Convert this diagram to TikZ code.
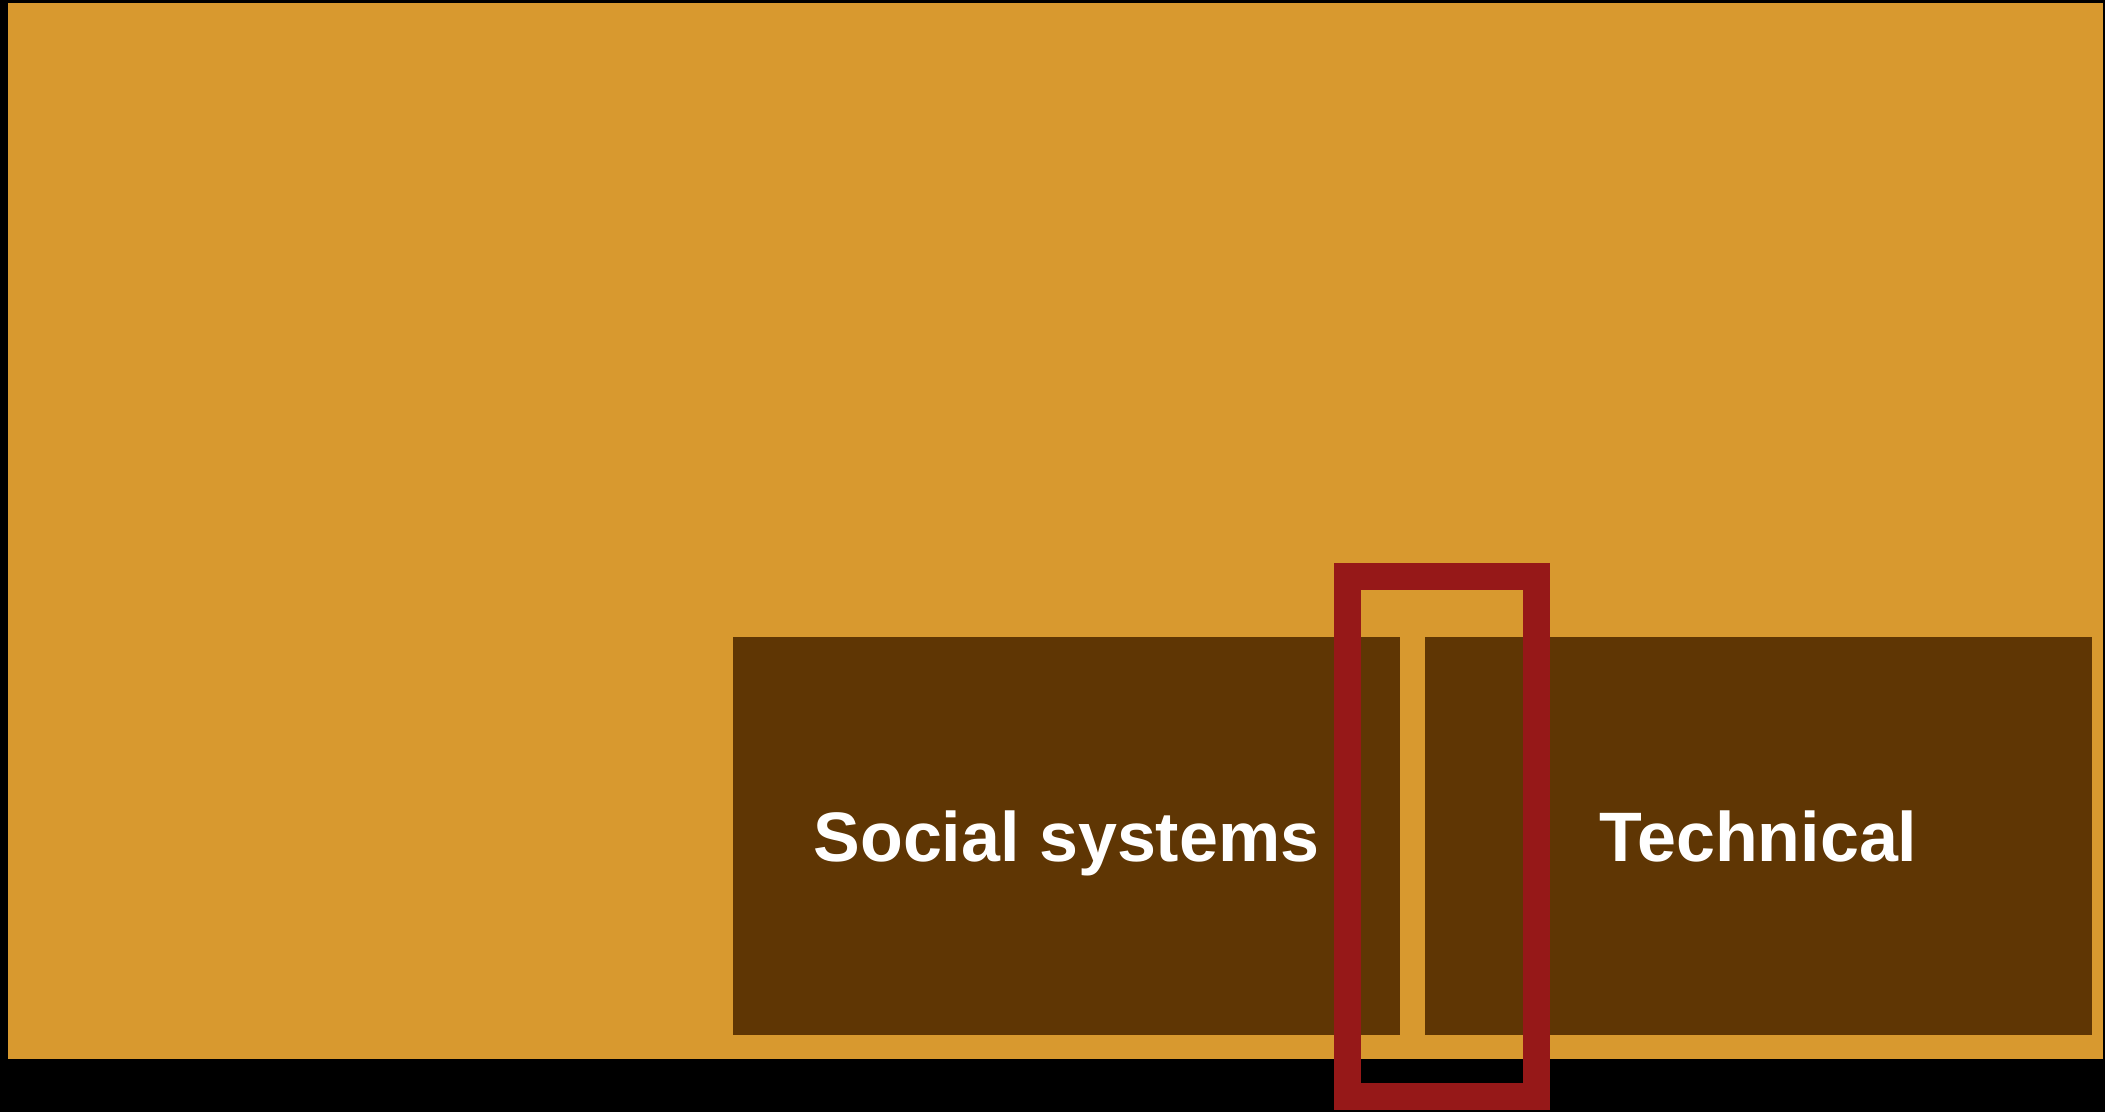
\documentclass[tikz,border=0pt]{standalone}
\usepackage{fontspec}
\setmainfont{Liberation Sans}
\usepackage{xcolor}
\definecolor{myorange}{RGB}{216,153,47}
\definecolor{mybrown}{RGB}{95,54,4}
\definecolor{myred}{RGB}{150,24,24}

\begin{document}
\begin{tikzpicture}[x=1pt, y=-1pt,
  panel/.style={fill=mybrown, text=white, inner sep=0pt,
    minimum width=667pt, minimum height=398pt,
    text height=51pt, text depth=0pt,
    font=\fontsize{70}{82}\selectfont\bfseries}]

% Background
\useasboundingbox (0,0) rectangle (2105,1112);
\fill[black] (0,0) rectangle (2105,1112);
\fill[myorange] (8,3) rectangle (2103,1059);

% Panels
\node[panel] (social) at (1066.5,836) {Social systems};
\node[panel] (technical) at (1758.5,836) {Technical};

% Highlight frame
\draw[myred, line width=27pt] (1347.5,576) rectangle (1536.5,1096);

\end{tikzpicture}
\end{document}
